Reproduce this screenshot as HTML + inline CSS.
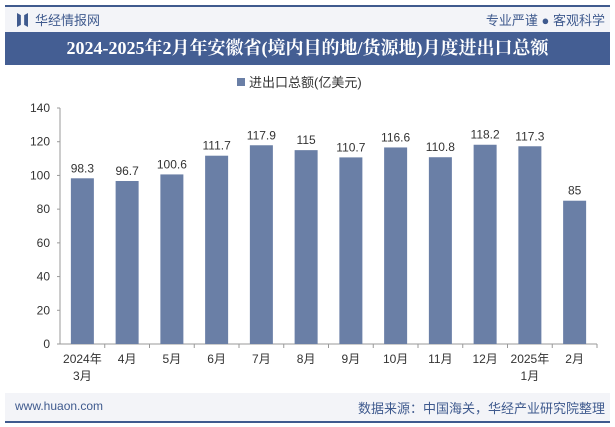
<!DOCTYPE html>
<html><head><meta charset="utf-8">
<style>
body{margin:0;width:615px;height:427px;background:#fff;font-family:"Liberation Sans","Noto Sans CJK SC",sans-serif;overflow:hidden;position:relative}
.abs{position:absolute}
</style></head><body>
<div class="abs" style="left:5px;top:5px;width:605px;height:2px;background:#3f5a8e"></div>
<div class="abs" style="left:5px;top:7px;width:605px;height:25px;background:#f3f4f8"></div>
<div class="abs" style="left:17px;top:13px;width:11px;height:14px;background:#3f5a8e;clip-path:polygon(0 0,35% 15%,35% 85%,0 100%,0 0,100% 0,100% 100%,65% 85%,65% 15%,100% 0)"></div>
<div class="abs" style="left:35px;top:10px;font-size:13px;color:#3f5a8e">华经情报网</div>
<div class="abs" style="right:10px;top:10px;font-size:13px;color:#3f5a8e">专业严谨 ● 客观科学</div>
<div class="abs" style="left:5px;top:32px;width:605px;height:33px;background:#445e93;color:#fff;font-weight:bold;font-size:18px;line-height:33px;text-align:center;font-family:'Liberation Serif','Noto Serif CJK SC',serif">2024-2025年2月年安徽省(境内目的地/货源地)月度进出口总额</div>
<div class="abs" style="left:5px;top:393px;width:605px;height:28px;background:#f3f4f8"></div>
<div class="abs" style="left:15px;top:399px;font-size:12px;color:#3f5a8e">www.huaon.com</div>
<div class="abs" style="right:10px;top:398px;font-size:13px;color:#3f5a8e">数据来源：中国海关，华经产业研究院整理</div>
<div class="abs" style="left:5px;top:421px;width:605px;height:2px;background:#3f5a8e"></div>
<svg class="abs" style="left:0;top:0" width="615" height="427" id="chart"></svg>
<script>
const categories=["2024年\n3月","4月","5月","6月","7月","8月","9月","10月","11月","12月","2025年\n1月","2月"];
const values=[98.3,96.7,100.6,111.7,117.9,115,110.7,116.6,110.8,118.2,117.3,85];
const labels=["98.3","96.7","100.6","111.7","117.9","115","110.7","116.6","110.8","118.2","117.3","85"];
const ticks=[0,20,40,60,80,100,120,140];
const svg=document.getElementById('chart');const NS="http://www.w3.org/2000/svg";
const x0=60,x1=597,yB=344,yT=108;
const y=v=>yB-(v/140)*(yB-yT);
const bw=(x1-x0)/categories.length;
const xc=i=>x0+bw*(i+0.5);
function mk(t,a,txt){const e=document.createElementNS(NS,t);for(const k in a)e.setAttribute(k,a[k]);if(txt!=null)e.textContent=txt;svg.appendChild(e);return e;}
let e=mk('rect',{x:237,y:78,width:8,height:8,fill:'#6a7fa6'});


e=mk('text',{x:249,y:87,'font-size':13,fill:'#333'},'进出口总额(亿美元)');


e=mk('line',{x1:x0,y1:yT,x2:x0,y2:yB,stroke:'#999'});


e=mk('line',{x1:x0,y1:yB,x2:x1,y2:yB,stroke:'#999'});


ticks.forEach(t=>{e=mk('text',{x:x0-10,y:y(t)+4,'font-size':12,fill:'#333','text-anchor':'end'},String(t));


mk('line',{x1:x0-3,y1:y(t),x2:x0,y2:y(t),stroke:'#999'});});
categories.forEach((c,i)=>{
 const cx=xc(i);
 e=mk('rect',{x:cx-11.5,y:y(values[i]),width:23,height:yB-y(values[i]),fill:'#6a7fa6'});
 
 
 e=mk('text',{x:cx,y:y(values[i])-6,'font-size':12,fill:'#333','text-anchor':'middle'},labels[i]);
 
 
 mk('line',{x1:x0+bw*(i+1),y1:yB,x2:x0+bw*(i+1),y2:yB+4,stroke:'#999'});
 c.split('\n').forEach((ln,j)=>{e=mk('text',{x:cx,y:yB+19+j*17,'font-size':12,fill:'#333','text-anchor':'middle'},ln);
 
 });
});
</script>
</body></html>
